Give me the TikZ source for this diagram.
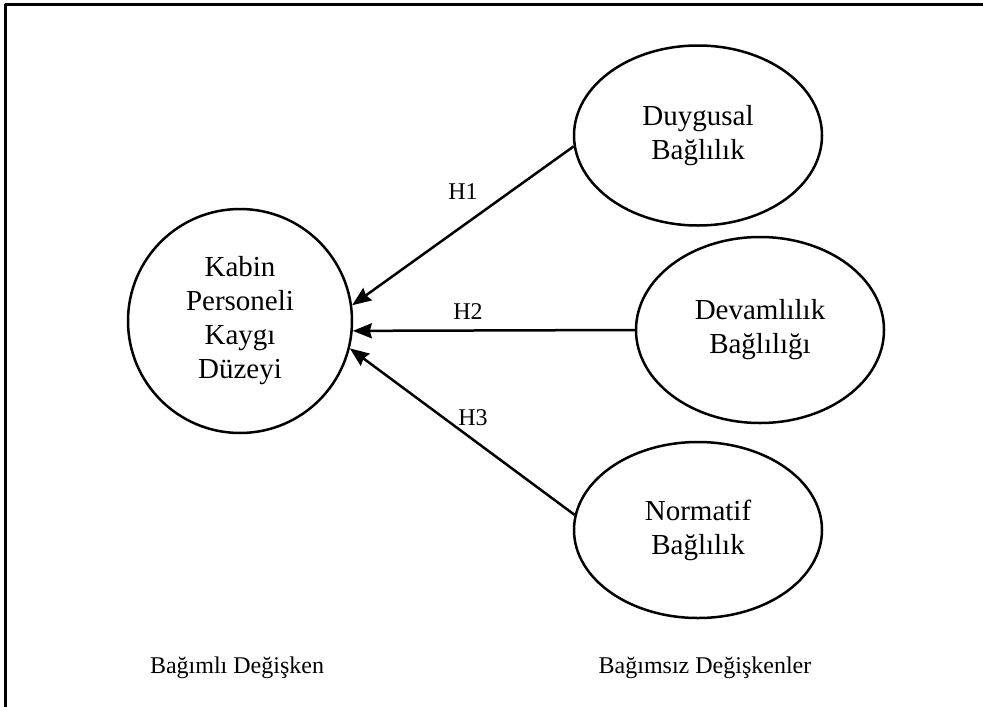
\documentclass[tikz,border=0pt]{standalone}
\usepackage{fontspec}
\setmainfont{Liberation Serif}
\usetikzlibrary{positioning,shapes,arrows.meta}

\begin{document}
\begin{tikzpicture}[x=1pt,y=-1pt,line join=bevel,
    >={Stealth[length=19pt,width=15pt,inset=2pt]},
    konu/.style={draw,line width=2.5pt,inner sep=0pt,align=center,
      font=\fontsize{29}{34}\selectfont},
    etiket/.style={font=\fontsize{24}{28}\selectfont}]
  \useasboundingbox (0,0) rectangle (983,707);
  % Frame
  \draw [line width=3pt] (5,707) -- (5,4.5) -- (983,4.5);
  % Node: kaygi
  \node [konu,circle,minimum size=224pt] (kaygi) at (240,321)
    {Kabin\\Personeli\\Kayg\i\\Düzeyi};
  % Node: duygusal
  \node [konu,ellipse,minimum width=248pt,minimum height=180pt] (duygusal) at (698,135.5)
    {Duygusal\\Bağlılık};
  % Node: devam
  \node [konu,ellipse,minimum width=248pt,minimum height=186pt] (devam) at (760,330)
    {Devamlılık\\Bağlılığı};
  % Node: normatif
  \node [konu,ellipse,minimum width=248pt,minimum height=176pt] (normatif) at (698,530)
    {Normatif\\Bağlılık};
  % Edge: duygusal -> kaygi
  \draw [->,line width=2.5pt] (duygusal.185) -- (kaygi.8);
  % Edge: devam -> kaygi
  \draw [->,line width=2.5pt] (devam.180) -- (kaygi.355);
  % Edge: normatif -> kaygi
  \draw [->,line width=2.5pt] (normatif.173) -- (kaygi.346);
  % Labels
  \node [etiket] (h1) at (463,192) {H1};
  \node [etiket] (h2) at (468,312) {H2};
  \node [etiket] (h3) at (473,418) {H3};
  \node [etiket] (bagimli) at (237,668) {Bağımlı Değişken};
  \node [etiket] (bagimsiz) at (705,668) {Bağımsız Değişkenler};
\end{tikzpicture}
\end{document}
